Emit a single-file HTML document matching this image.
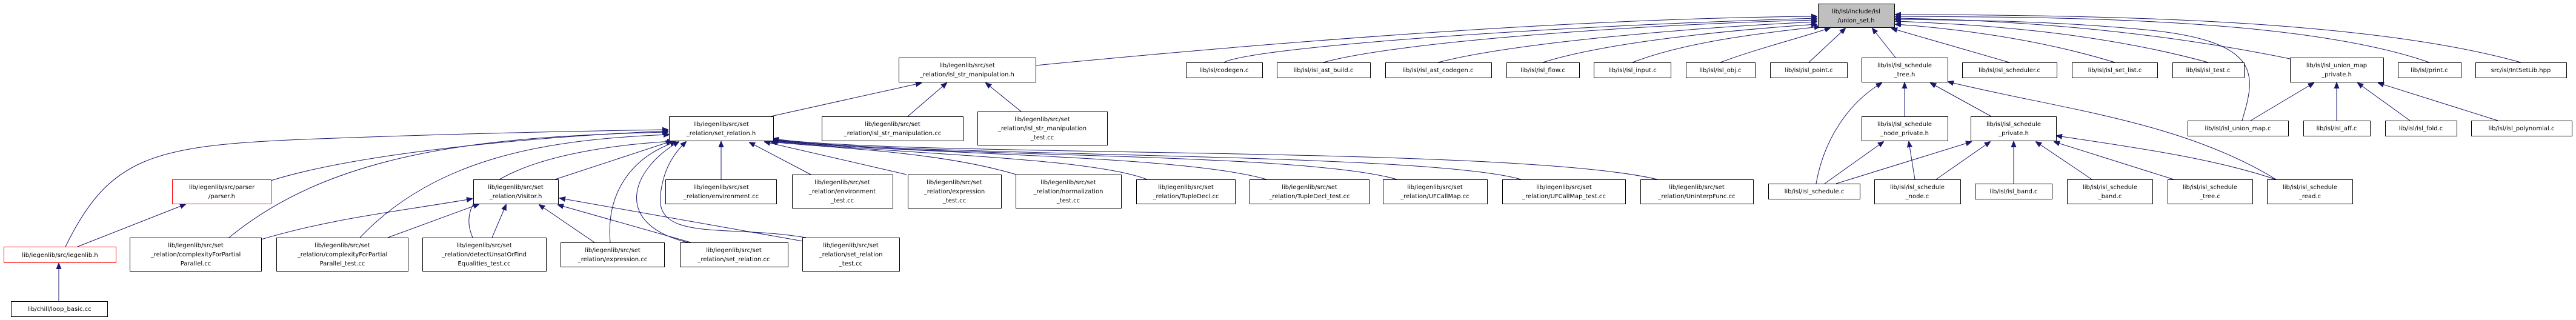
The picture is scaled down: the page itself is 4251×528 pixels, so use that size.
<!DOCTYPE html>
<html><head><meta charset="utf-8">
<style>
html,body{margin:0;padding:0;background:#fff;}
svg{display:block;}
text{font-family:"DejaVu Sans","Liberation Sans",sans-serif;font-size:10px;fill:#000;text-anchor:middle;}
rect{fill:#fff;stroke:#000;stroke-width:1;}
rect.r{stroke:#ff0000;}
rect.m{fill:#bfbfbf;}
path{fill:none;stroke:#191970;stroke-width:1;marker-end:url(#a);}
</style></head><body>
<svg width="4251" height="528" viewBox="0 0 4251 528" xmlns="http://www.w3.org/2000/svg">
<defs><marker id="a" viewBox="0 0 10 10" refX="9" refY="5" markerWidth="10" markerHeight="10" markerUnits="userSpaceOnUse" orient="auto"><path d="M0,1 L10,5 L0,9 z" style="fill:#191970;stroke:#191970;marker-end:none"/></marker></defs>

<!-- edges to main -->
<path d="M1709,108 C2100,70 2600,30 2998,27"/>
<path d="M2020,103 C2060,80 2500,45 2998,30"/>
<path d="M2184,103 C2300,70 2700,40 2998,33"/>
<path d="M2373,103 C2500,70 2800,45 2998,36"/>
<path d="M2546,103 C2650,70 2850,50 2998,40"/>
<path d="M2694,103 C2780,70 2900,55 3003,44"/>
<path d="M2839,103 C2900,80 2980,60 3020,46"/>
<path d="M2985,103 L3045,47"/>
<path d="M3128,95 L3090,47"/>
<path d="M3316,103 L3122,47"/>
<path d="M3490,103 C3350,60 3200,45 3128,40"/>
<path d="M3644,103 C3450,50 3250,40 3128,35"/>
<path d="M3779,97 C3500,40 3250,32 3128,30"/>
<path d="M4009,103 C3800,30 3400,28 3128,27"/>
<path d="M4160,103 C3900,30 3450,25 3128,24"/>
<path d="M3700,199 C3720,130 3740,70 3550,50 C3400,35 3250,33 3128,32"/>

<!-- isl_str_manipulation.h -->
<path d="M1272,192 L1520,137"/>
<path d="M1498,192 L1562,137"/>
<path d="M1685,184 L1627,137"/>

<!-- set_relation.h children -->
<path d="M108,407 C180,260 250,240 500,230 C700,222 950,216 1102,214"/>
<path d="M447,298 C600,250 900,225 1102,216"/>
<path d="M378,392 C550,250 800,225 1102,218"/>
<path d="M594,392 C720,260 900,230 1104,222"/>
<path d="M780,392 C740,300 900,245 1110,233"/>
<path d="M916,296 L1108,233"/>
<path d="M1007,400 C1000,320 1040,260 1115,234"/>
<path d="M1135,400 C1010,370 1040,280 1120,234"/>
<path d="M1330,392 C1200,370 1080,400 1090,320 C1095,280 1110,255 1132,234"/>
<path d="M1190,296 L1190,234"/>
<path d="M1338,288 L1237,235"/>
<path d="M1496,288 L1262,234"/>
<path d="M1677,288 C1550,250 1380,245 1272,234"/>
<path d="M1893,296 C1800,260 1500,255 1274,233"/>
<path d="M2090,296 C1950,255 1500,255 1275,232"/>
<path d="M2305,296 C2150,250 1500,260 1276,231"/>
<path d="M2510,296 C2350,250 1500,260 1276,230"/>
<path d="M2735,296 C2500,240 1500,260 1276,229"/>

<!-- Visitor.h children -->
<path d="M431,395 C550,360 650,350 779,328"/>
<path d="M640,392 L790,337"/>
<path d="M812,392 L835,338"/>
<path d="M981,400 L890,338"/>
<path d="M1140,400 L921,338"/>
<path d="M1325,398 L924,327"/>

<!-- iegenlib/parser -->
<path d="M97,497 L97,435"/>
<path d="M128,407 L306,337"/>

<!-- schedule_tree.h -->
<path d="M2997,303 C3010,230 3050,170 3105,137"/>
<path d="M3143,192 L3143,137"/>
<path d="M3286,192 L3186,137"/>
<path d="M3756,296 C3600,200 3400,180 3215,135"/>
<!-- node_private.h -->
<path d="M3011,303 L3108,234"/>
<path d="M3160,296 L3150,234"/>
<!-- schedule_private.h -->
<path d="M3030,303 L3253,234"/>
<path d="M3195,296 L3284,234"/>
<path d="M3323,303 L3323,234"/>
<path d="M3452,296 L3360,234"/>
<path d="M3587,296 L3390,234"/>
<path d="M3755,296 C3650,260 3500,240 3394,224"/>
<!-- union_map_private.h -->
<path d="M3714,199 L3818,137"/>
<path d="M3856,199 L3856,137"/>
<path d="M3977,199 L3891,137"/>
<path d="M4122,199 L3925,137"/>

<!-- nodes -->
<rect class="m" x="3000.5" y="6.5" width="126" height="39"/><text x="3063" y="22">lib/isl/include/isl</text><text x="3063" y="37">/union_set.h</text>

<rect x="1483.5" y="95.5" width="226" height="40"/><text x="1596" y="111">lib/iegenlib/src/set</text><text x="1596" y="126">_relation/isl_str_manipulation.h</text>
<rect x="1957.5" y="103.5" width="126" height="25"/><text x="2020" y="119">lib/isl/codegen.c</text>
<rect x="2107.5" y="103.5" width="154" height="25"/><text x="2184" y="119">lib/isl/isl_ast_build.c</text>
<rect x="2286.5" y="103.5" width="175" height="25"/><text x="2373" y="119">lib/isl/isl_ast_codegen.c</text>
<rect x="2486.5" y="103.5" width="120" height="25"/><text x="2546" y="119">lib/isl/isl_flow.c</text>
<rect x="2630.5" y="103.5" width="127" height="25"/><text x="2694" y="119">lib/isl/isl_input.c</text>
<rect x="2782.5" y="103.5" width="114" height="25"/><text x="2839" y="119">lib/isl/isl_obj.c</text>
<rect x="2921.5" y="103.5" width="127" height="25"/><text x="2985" y="119">lib/isl/isl_point.c</text>
<rect x="3072.5" y="95.5" width="142" height="40"/><text x="3143" y="111">lib/isl/isl_schedule</text><text x="3143" y="126">_tree.h</text>
<rect x="3238.5" y="103.5" width="156" height="25"/><text x="3316" y="119">lib/isl/isl_scheduler.c</text>
<rect x="3419.5" y="103.5" width="141" height="25"/><text x="3490" y="119">lib/isl/isl_set_list.c</text>
<rect x="3585.5" y="103.5" width="118" height="25"/><text x="3644" y="119">lib/isl/isl_test.c</text>
<rect x="3779.5" y="95.5" width="154" height="40"/><text x="3856" y="111">lib/isl/isl_union_map</text><text x="3856" y="126">_private.h</text>
<rect x="3957.5" y="103.5" width="104" height="25"/><text x="4009" y="119">lib/isl/print.c</text>
<rect x="4085.5" y="103.5" width="150" height="25"/><text x="4160" y="119">src/isl/IntSetLib.hpp</text>

<rect x="1104.5" y="192.5" width="172" height="40"/><text x="1190" y="208">lib/iegenlib/src/set</text><text x="1190" y="223">_relation/set_relation.h</text>
<rect x="1356.5" y="192.5" width="233" height="40"/><text x="1473" y="208">lib/iegenlib/src/set</text><text x="1473" y="223">_relation/isl_str_manipulation.cc</text>
<rect x="1613.5" y="184.5" width="214" height="55"/><text x="1720" y="200">lib/iegenlib/src/set</text><text x="1720" y="215">_relation/isl_str_manipulation</text><text x="1720" y="230">_test.cc</text>
<rect x="3072.5" y="192.5" width="142" height="40"/><text x="3143" y="208">lib/isl/isl_schedule</text><text x="3143" y="223">_node_private.h</text>
<rect x="3252.5" y="192.5" width="141" height="40"/><text x="3323" y="208">lib/isl/isl_schedule</text><text x="3323" y="223">_private.h</text>
<rect x="3610.5" y="199.5" width="166" height="25"/><text x="3693" y="215">lib/isl/isl_union_map.c</text>
<rect x="3801.5" y="199.5" width="110" height="25"/><text x="3856" y="215">lib/isl/isl_aff.c</text>
<rect x="3936.5" y="199.5" width="118" height="25"/><text x="3995" y="215">lib/isl/isl_fold.c</text>
<rect x="4078.5" y="199.5" width="166" height="25"/><text x="4161" y="215">lib/isl/isl_polynomial.c</text>

<rect class="r" x="284.5" y="296.5" width="163" height="40"/><text x="366" y="312">lib/iegenlib/src/parser</text><text x="366" y="327">/parser.h</text>
<rect x="781.5" y="296.5" width="140" height="40"/><text x="851" y="312">lib/iegenlib/src/set</text><text x="851" y="327">_relation/Visitor.h</text>
<rect x="1098.5" y="296.5" width="183" height="40"/><text x="1190" y="312">lib/iegenlib/src/set</text><text x="1190" y="327">_relation/environment.cc</text>
<rect x="1307.5" y="288.5" width="166" height="55"/><text x="1390" y="304">lib/iegenlib/src/set</text><text x="1390" y="319">_relation/environment</text><text x="1390" y="334">_test.cc</text>
<rect x="1498.5" y="288.5" width="154" height="55"/><text x="1575" y="304">lib/iegenlib/src/set</text><text x="1575" y="319">_relation/expression</text><text x="1575" y="334">_test.cc</text>
<rect x="1676.5" y="288.5" width="174" height="55"/><text x="1763" y="304">lib/iegenlib/src/set</text><text x="1763" y="319">_relation/normalization</text><text x="1763" y="334">_test.cc</text>
<rect x="1875.5" y="296.5" width="163" height="40"/><text x="1957" y="312">lib/iegenlib/src/set</text><text x="1957" y="327">_relation/TupleDecl.cc</text>
<rect x="2062.5" y="296.5" width="197" height="40"/><text x="2161" y="312">lib/iegenlib/src/set</text><text x="2161" y="327">_relation/TupleDecl_test.cc</text>
<rect x="2282.5" y="296.5" width="172" height="40"/><text x="2368" y="312">lib/iegenlib/src/set</text><text x="2368" y="327">_relation/UFCallMap.cc</text>
<rect x="2479.5" y="296.5" width="203" height="40"/><text x="2581" y="312">lib/iegenlib/src/set</text><text x="2581" y="327">_relation/UFCallMap_test.cc</text>
<rect x="2707.5" y="296.5" width="186" height="40"/><text x="2800" y="312">lib/iegenlib/src/set</text><text x="2800" y="327">_relation/UninterpFunc.cc</text>
<rect x="2918.5" y="303.5" width="151" height="25"/><text x="2994" y="319">lib/isl/isl_schedule.c</text>
<rect x="3093.5" y="296.5" width="142" height="40"/><text x="3164" y="312">lib/isl/isl_schedule</text><text x="3164" y="327">_node.c</text>
<rect x="3259.5" y="303.5" width="127" height="25"/><text x="3323" y="319">lib/isl/isl_band.c</text>
<rect x="3411.5" y="296.5" width="141" height="40"/><text x="3482" y="312">lib/isl/isl_schedule</text><text x="3482" y="327">_band.c</text>
<rect x="3577.5" y="296.5" width="140" height="40"/><text x="3647" y="312">lib/isl/isl_schedule</text><text x="3647" y="327">_tree.c</text>
<rect x="3741.5" y="296.5" width="141" height="40"/><text x="3812" y="312">lib/isl/isl_schedule</text><text x="3812" y="327">_read.c</text>

<rect class="r" x="6.5" y="407.5" width="185" height="26"/><text x="99" y="424">lib/iegenlib/src/iegenlib.h</text>
<rect x="214.5" y="392.5" width="217" height="55"/><text x="323" y="408">lib/iegenlib/src/set</text><text x="323" y="423">_relation/complexityForPartial</text><text x="323" y="438">Parallel.cc</text>
<rect x="456.5" y="392.5" width="217" height="55"/><text x="565" y="408">lib/iegenlib/src/set</text><text x="565" y="423">_relation/complexityForPartial</text><text x="565" y="438">Parallel_test.cc</text>
<rect x="697.5" y="392.5" width="204" height="55"/><text x="799" y="408">lib/iegenlib/src/set</text><text x="799" y="423">_relation/detectUnsatOrFind</text><text x="799" y="438">Equalities_test.cc</text>
<rect x="925.5" y="400.5" width="171" height="40"/><text x="1011" y="416">lib/iegenlib/src/set</text><text x="1011" y="431">_relation/expression.cc</text>
<rect x="1122.5" y="400.5" width="178" height="40"/><text x="1211" y="416">lib/iegenlib/src/set</text><text x="1211" y="431">_relation/set_relation.cc</text>
<rect x="1324.5" y="392.5" width="160" height="55"/><text x="1404" y="408">lib/iegenlib/src/set</text><text x="1404" y="423">_relation/set_relation</text><text x="1404" y="438">_test.cc</text>

<rect x="18.5" y="497.5" width="159" height="25"/><text x="98" y="513">lib/chill/loop_basic.cc</text>
</svg>
</body></html>
